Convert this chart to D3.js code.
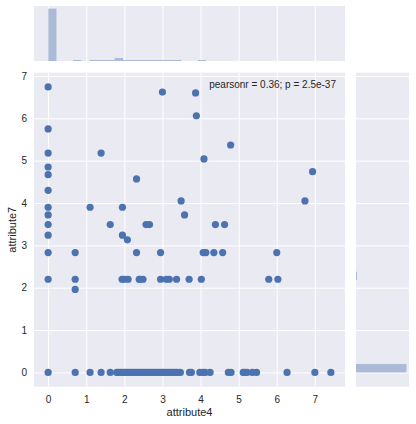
<!DOCTYPE html>
<html>
<head>
<meta charset="utf-8">
<script src="https://cdn.jsdelivr.net/npm/d3@7"></script>
<style>
  body { margin: 0; background: #fff; }
  text { font-family: "Liberation Sans", Arial, sans-serif; fill: #262626; }
</style>
</head>
<body>
<div id="chart"></div>
<script>
// scatter points
var ptX = [
  0,0,0,0,0,0,0,0,0,0,0,0,0,
  0.71,0.71,0.71,0.71,
  1.10,1.39,1.63,1.95,1.95,2.08,1.94,2.00,2.10,2.39,2.32,2.32,
  1.10,1.39,1.63,1.80,1.85,1.90,1.95,2.00,2.05,2.10,2.15,2.20,2.25,2.30,2.35,2.40,2.45,2.50,
  2.55,2.60,2.65,2.70,2.75,2.80,2.85,2.90,2.95,3.00,3.05,3.10,3.15,3.20,3.25,3.30,3.35,3.40,3.47,
  3.71,3.76,3.98,4.06,4.12,4.25,4.73,4.80,5.12,5.16,5.22,5.36,5.47,6.27,7.00,7.42,
  3.00,3.87,3.89,4.79,4.09,3.49,3.58,2.57,2.66,4.39,4.63,6.94,6.74,
  2.95,4.07,4.14,4.35,4.58,6.00,
  2.41,2.49,2.95,3.10,3.18,3.37,3.70,4.02,5.79,6.03
];
var ptY = [
  6.74,5.75,5.18,4.85,4.67,4.30,3.90,3.72,3.49,3.24,2.83,2.20,0,
  2.83,2.20,1.96,0,
  3.90,5.18,3.49,3.90,3.24,3.13,2.20,2.20,2.20,2.20,2.83,4.57,
  0,0,0,0,0,0,0,0,0,0,0,0,0,0,0,0,0,0,
  0,0,0,0,0,0,0,0,0,0,0,0,0,0,0,0,0,0,0,
  0,0,0,0,0,0,0,0,0,0,0,0,0,0,0,0,
  6.62,6.60,6.06,5.37,5.04,4.05,3.72,3.49,3.49,3.49,3.49,4.74,4.05,
  2.83,2.83,2.83,2.83,2.83,2.83,
  2.20,2.20,2.20,2.20,2.20,2.20,2.20,2.20,2.20,2.20
];

// marginal histogram counts, 34 bins each
var xMax = 7.42, yMax = 6.74, nBins = 34;
var topCounts = [520,0,0,10,0,10,10,10,30,10,10,10,10,10,10,10,0,0,10,0,0,0,0,0,0,0,0,0,0,0,0,0,0,0];
var rightCounts = [1000,0,0,0,0,0,0,0,0,0,0,19,0,0,0,0,0,0,0,0,0,0,0,0,0,0,0,0,0,0,0,0,0,0];

var xTicks = [0,1,2,3,4,5,6,7];
var yTicks = [0,1,2,3,4,5,6,7];

var W = 416, H = 424;
var main = {left: 34, right: 345, top: 72.7, bottom: 386.7};
var topM = {top: 6, bottom: 61};
var rightM = {left: 356, right: 409};

var svg = d3.select("#chart").append("svg")
    .attr("width", W)
    .attr("height", H);

var x = d3.scaleLinear()
    .domain([-xMax * 0.05, xMax * 1.05])
    .range([main.left, main.right]);
var y = d3.scaleLinear()
    .domain([-yMax * 0.05, yMax * 1.05])
    .range([main.bottom, main.top]);

var hx = d3.scaleLinear().domain([0, d3.max(topCounts) * 1.05]).range([topM.bottom, topM.top]);
var hy = d3.scaleLinear().domain([0, d3.max(rightCounts) * 1.05]).range([rightM.left, rightM.right]);

// backgrounds
svg.append("rect").attr("x", main.left).attr("y", main.top)
  .attr("width", main.right - main.left).attr("height", main.bottom - main.top).attr("fill", "#EAEAF2");
svg.append("rect").attr("x", main.left).attr("y", topM.top)
  .attr("width", main.right - main.left).attr("height", topM.bottom - topM.top).attr("fill", "#EAEAF2");
svg.append("rect").attr("x", rightM.left).attr("y", main.top)
  .attr("width", rightM.right - rightM.left).attr("height", main.bottom - main.top).attr("fill", "#EAEAF2");

function grid(g) {
  g.select(".domain").remove();
  g.selectAll("line").attr("stroke", "#fff").attr("stroke-width", 1);
  g.selectAll("text").remove();
}

// gridlines
svg.append("g").attr("transform", "translate(0," + main.bottom + ")")
  .call(d3.axisBottom(x).tickValues(xTicks).tickSize(-(main.bottom - main.top))).call(grid);
svg.append("g").attr("transform", "translate(" + main.left + ",0)")
  .call(d3.axisLeft(y).tickValues(yTicks).tickSize(-(main.right - main.left))).call(grid);
svg.append("g").attr("transform", "translate(0," + topM.bottom + ")")
  .call(d3.axisBottom(x).tickValues(xTicks).tickSize(-(topM.bottom - topM.top))).call(grid);
svg.append("g").attr("transform", "translate(" + rightM.left + ",0)")
  .call(d3.axisLeft(y).tickValues(yTicks).tickSize(-(rightM.right - rightM.left))).call(grid);

// tick labels
svg.append("g").attr("transform", "translate(0," + main.bottom + ")")
  .call(d3.axisBottom(x).tickValues(xTicks).tickSize(0).tickPadding(9).tickFormat(d3.format("d")))
  .call(function(g) {
    g.select(".domain").remove();
    g.selectAll("text").attr("font-size", 10).style("font-family", null);
  });
svg.append("g").attr("transform", "translate(" + main.left + ",0)")
  .call(d3.axisLeft(y).tickValues(yTicks).tickSize(0).tickPadding(7).tickFormat(d3.format("d")))
  .call(function(g) {
    g.select(".domain").remove();
    g.selectAll("text").attr("font-size", 10).style("font-family", null);
  });

// histograms
var xw = xMax / nBins, yw = yMax / nBins;
svg.append("g").selectAll("rect")
  .data(topCounts)
  .enter().append("rect")
    .attr("x", function(d, i) { return x(i * xw); })
    .attr("width", function(d, i) { return x((i + 1) * xw) - x(i * xw); })
    .attr("y", function(d) { return hx(d); })
    .attr("height", function(d) { return hx(0) - hx(d); })
    .attr("fill", "#4C72B0")
    .attr("fill-opacity", 0.4);

svg.append("g").selectAll("rect")
  .data(rightCounts)
  .enter().append("rect")
    .attr("y", function(d, i) { return y((i + 1) * yw); })
    .attr("height", function(d, i) { return y(i * yw) - y((i + 1) * yw); })
    .attr("x", hy(0))
    .attr("width", function(d) { return hy(d) - hy(0); })
    .attr("fill", "#4C72B0")
    .attr("fill-opacity", 0.4);

// scatter
svg.append("g").selectAll("circle")
  .data(ptX)
  .enter().append("circle")
    .attr("cx", function(d) { return x(d); })
    .attr("cy", function(d, i) { return y(ptY[i]); })
    .attr("r", 3.6)
    .attr("fill", "#4C72B0");

// labels
svg.append("text")
  .attr("x", (main.left + main.right) / 2)
  .attr("y", 416)
  .attr("text-anchor", "middle")
  .attr("font-size", 11)
  .text("attribute4");

svg.append("text")
  .attr("transform", "translate(16," + ((main.top + main.bottom) / 2) + ") rotate(-90)")
  .attr("text-anchor", "middle")
  .attr("font-size", 11)
  .text("attribute7");

svg.append("text")
  .attr("x", 336)
  .attr("y", 87.5)
  .attr("text-anchor", "end")
  .attr("font-size", 10)
  .text("pearsonr = 0.36; p = 2.5e-37");
</script>
</body>
</html>
